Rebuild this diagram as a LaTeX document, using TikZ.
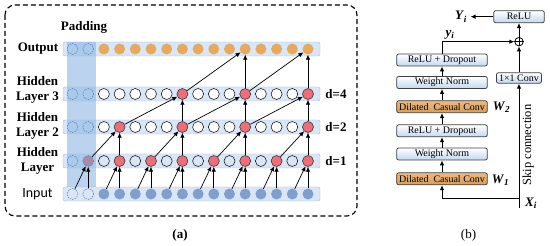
\documentclass[tikz,border=0pt]{standalone}
\usepackage{fontspec}
\setmainfont{Liberation Serif}
\newfontfamily\inputfont{Carlito}
\usetikzlibrary{arrows.meta,positioning}
\definecolor{barfill}{HTML}{DAE6F6}
\definecolor{bardraw}{HTML}{9FBBE2}
\definecolor{padblue}{HTML}{8DB6E4}
\definecolor{padline}{HTML}{5B7FB5}
\definecolor{inblue}{HTML}{819FCD}
\definecolor{outorange}{HTML}{E5AA62}
\definecolor{redn}{HTML}{E8707A}
\definecolor{purplecell}{HTML}{A98AA8}
\definecolor{blockblue}{HTML}{C3D7F0}
\definecolor{convlight}{HTML}{EDBA82}
\definecolor{convorange}{HTML}{D99C5A}
\newcommand{\varlbl}[2]{\textbf{\textit{#1}}\textsubscript{\textbf{\textit{#2}}}}
\tikzset{
  cell/.style={circle, minimum size=11pt, inner sep=0pt},
  padcell/.style={cell, draw=padline, dash pattern=on 1.5pt off 1pt, line width=0.5pt},
  emptycell/.style={cell, draw=black, line width=0.5pt},
  redcell/.style={cell, draw=black!85, fill=redn, line width=0.5pt},
  incell/.style={cell, fill=inblue},
  outcell/.style={cell, fill=outorange},
  link/.style={-{Latex[length=5pt,width=4.5pt]}, line width=0.7pt},
  lbl/.style={font=\fontsize{13}{15.5}\selectfont\bfseries, align=center},
  block/.style={draw=black!75, line width=0.8pt, rounded corners=2pt, minimum width=90.6pt,
    minimum height=12pt, inner sep=0pt, font=\fontsize{10}{11}\selectfont,
    top color=white, bottom color=blockblue},
  convblock/.style={block, top color=convlight, bottom color=convorange},
  flow/.style={-{Latex[length=5pt,width=4.5pt]}, line width=0.9pt},
  varname/.style={font=\fontsize{13}{14}\selectfont},
}
\begin{document}
\begin{tikzpicture}[x=1pt,y=-1pt]
  \useasboundingbox (0,0) rectangle (550,246);
  % Frame of panel (a)
  \draw[line width=1.1pt, dash pattern=on 5pt off 3pt, rounded corners=10pt] (5,5) rectangle (357,216);
  % Row bars
  \foreach \y in {194,161,127,94,49}
    \draw[draw=bardraw, fill=barfill, rounded corners=2pt] (63,\y-7) rectangle (320,\y+7);
  % Padding column
  \fill[padblue, opacity=0.6] (67,42) rectangle (96,187);
  % Input
  \foreach \c in {0,1} \node[padcell] (r0-\c) at ({72.5+15.7*\c},194) {};
  \foreach \c in {2,...,15} \node[incell] (r0-\c) at ({72.5+15.7*\c},194) {};
  % Hidden layer (d=1)
  \node[padcell] (r1-0) at (72.5,161) {};
  \node[padcell, fill=purplecell] (r1-1) at (88.2,161) {};
  \foreach \c in {2,4,...,14} \node[emptycell] (r1-\c) at ({72.5+15.7*\c},161) {};
  \foreach \c in {3,5,...,15} \node[redcell] (r1-\c) at ({72.5+15.7*\c},161) {};
  % Hidden layer 2 (d=2)
  \foreach \c in {0,1} \node[padcell] (r2-\c) at ({72.5+15.7*\c},127) {};
  \foreach \c in {2,4,5,6,8,9,10,12,13,14} \node[emptycell, fill=white] (r2-\c) at ({72.5+15.7*\c},127) {};
  \foreach \c in {3,7,11,15} \node[redcell] (r2-\c) at ({72.5+15.7*\c},127) {};
  % Hidden layer 3 (d=4)
  \foreach \c in {0,1} \node[padcell] (r3-\c) at ({72.5+15.7*\c},94) {};
  \foreach \c in {2,...,6,8,9,10,12,13,14} \node[emptycell, fill=white] (r3-\c) at ({72.5+15.7*\c},94) {};
  \foreach \c in {7,11,15} \node[redcell] (r3-\c) at ({72.5+15.7*\c},94) {};
  % Output
  \foreach \c in {0,1} \node[padcell] (r4-\c) at ({72.5+15.7*\c},49) {};
  \foreach \c in {2,...,15} \node[outcell] (r4-\c) at ({72.5+15.7*\c},49) {};
  % Dilated connections
  \foreach \c [evaluate=\c as \p using int(\c-1)] in {1,3,...,15} {
    \draw[link] (r0-\p) -- (r1-\c);
    \draw[link] (r0-\c) -- (r1-\c);
  }
  \foreach \c [evaluate=\c as \p using int(\c-2)] in {3,7,11,15} {
    \draw[link] (r1-\p) -- (r2-\c);
    \draw[link] (r1-\c) -- (r2-\c);
  }
  \foreach \c [evaluate=\c as \p using int(\c-4)] in {7,11,15} {
    \draw[link] (r2-\p) -- (r3-\c);
    \draw[link] (r2-\c) -- (r3-\c);
  }
  \foreach \c [evaluate=\c as \p using int(\c-4)] in {11,15} {
    \draw[link] (r3-\p) -- (r4-\c);
    \draw[link] (r3-\c) -- (r4-\c);
  }
  % Labels of panel (a)
  \node[lbl] (padlbl) at (84,27) {Padding};
  \node[lbl] (outlbl) at (38,49) {Output};
  \node[lbl] (h3lbl) at (37.5,90) {Hidden\\Layer 3};
  \node[lbl] (h2lbl) at (37.5,126) {Hidden\\Layer 2};
  \node[lbl] (h1lbl) at (37.5,161) {Hidden\\Layer};
  \node[font=\inputfont\fontsize{14}{16}\selectfont] (inlbl) at (37.5,194) {Input};
  \node[lbl] (d4) at (336,94) {d=4};
  \node[lbl] (d2) at (336,127) {d=2};
  \node[lbl] (d1) at (336,161) {d=1};
  \node[lbl] (capa) at (180,235) {(a)};
  % Panel (b): residual block
  \node[convblock] (dc1) at (442,178.8) {Dilated\ \ Casual Conv};
  \node[block] (wn1) at (442,154) {Weight Norm};
  \node[block] (rd1) at (442,130.8) {ReLU + Dropout};
  \node[convblock] (dc2) at (442,106.7) {Dilated\ \ Casual Conv};
  \node[block] (wn2) at (442,82.5) {Weight Norm};
  \node[block] (rd2) at (442,60) {ReLU + Dropout};
  \node[block, minimum width=45pt, minimum height=10.5pt] (conv1) at (519,78) {1×1 Conv};
  \node[block, minimum width=50.6pt] (relu) at (519,16.7) {ReLU};
  \node[circle, draw, line width=0.8pt, minimum size=8.5pt, inner sep=0pt] (plus) at (519,41.7) {};
  \draw[line width=0.8pt] (plus.north) -- (plus.south) (plus.west) -- (plus.east);
  \coordinate (xin) at (519,208);
  \coordinate (split) at (519,198);
  % Flow
  \draw[flow] (xin) -- (conv1);
  \draw[flow] (split) -| (dc1);
  \draw[flow] (dc1) -- (wn1);
  \draw[flow] (wn1) -- (rd1);
  \draw[flow] (rd1) -- (dc2);
  \draw[flow] (dc2) -- (wn2);
  \draw[flow] (wn2) -- (rd2);
  \draw[flow] (rd2) |- (plus);
  \draw[flow] (conv1) -- (plus);
  \draw[flow] (plus) -- (relu);
  \node[varname] (yout) at (461,16.7) {\varlbl{Y}{i}};
  \draw[flow] (relu) -- (yout);
  % Labels of panel (b)
  \node[varname] (ylbl) at (450,35) {\varlbl{y}{i}};
  \node[varname] (w2) at (501.5,107) {\varlbl{W}{2}};
  \node[varname] (w1) at (500.5,180) {\varlbl{W}{1}};
  \node[varname] (xlbl) at (531,203) {\varlbl{X}{i}};
  \node[rotate=90, font=\fontsize{12.5}{13}\selectfont] (skip) at (528,145) {Skip connection};
  \node[font=\fontsize{13}{14}\selectfont] (capb) at (468.5,235) {(b)};
\end{tikzpicture}
\end{document}
